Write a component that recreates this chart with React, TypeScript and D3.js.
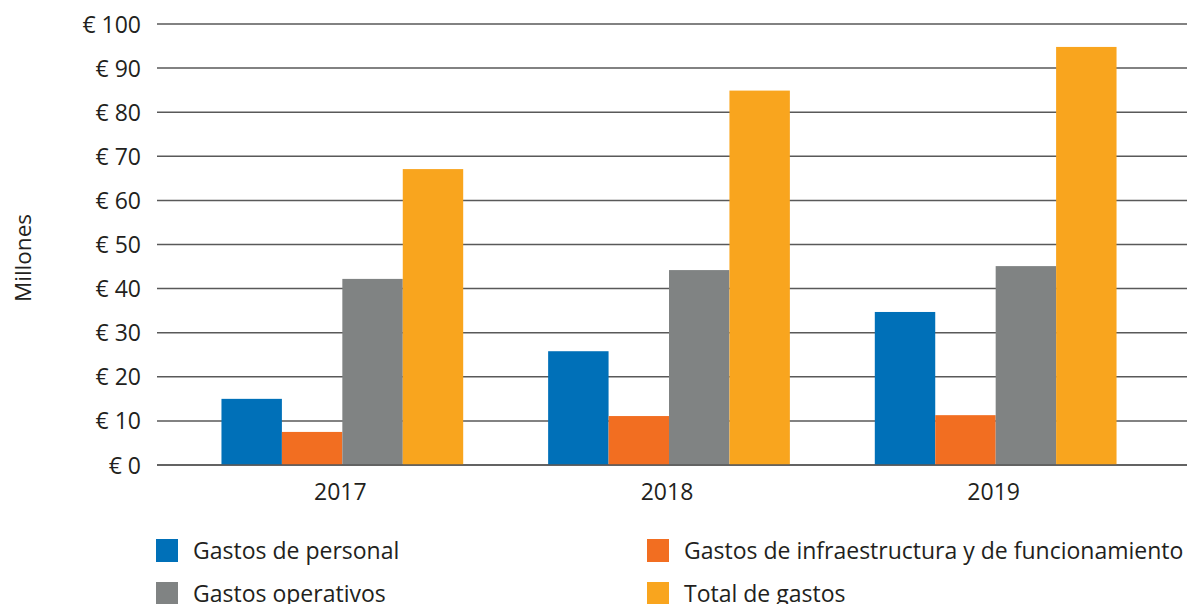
import * as d3 from "d3";
import { useRef, useEffect } from "react";

const years = ["2017", "2018", "2019"];
const seriesNames = [
  "Gastos de personal",
  "Gastos de infraestructura y de funcionamiento",
  "Gastos operativos",
  "Total de gastos"
];
const colors = ["#0070b8", "#f26e21", "#808383", "#f9a51e"];
// values in millions of euros, one array per series (2017, 2018, 2019)
const personal = [15.0, 25.8, 34.7];
const infraestructura = [7.5, 11.1, 11.3];
const operativos = [42.2, 44.2, 45.1];
const total = [67.1, 84.9, 94.8];
const yTicks = [0, 10, 20, 30, 40, 50, 60, 70, 80, 90, 100];

const series = [personal, infraestructura, operativos, total];

export default function App() {
  const width = 1194;
  const height = 604;
  const gridLeft = 157;
  const gridRight = 1187;
  const font = "'Open Sans', sans-serif";
  const textColor = "#231f20";

  const gy = useRef<SVGGElement>(null);

  const y = d3.scaleLinear([0, 100], [465, 24]);
  const x0 = d3.scaleBand(years, [179, 1159]).paddingInner(0.26).paddingOuter(0.13);
  const x1 = d3.scaleBand(d3.range(series.length).map(String), [0, x0.bandwidth()]);

  useEffect(() => {
    const g = d3.select(gy.current);
    g.selectAll("*").remove();
    g.call(
      d3.axisLeft(y)
        .tickValues(yTicks)
        .tickSize(0)
        .tickPadding(16)
        .tickFormat((d) => `€ ${d}`)
    );
    g.select(".domain").remove();
    g.selectAll("text")
      .style("font-family", font)
      .style("font-size", "23px")
      .attr("fill", textColor)
      .attr("dy", "0.35em");
  }, []);

  const legend = [
    { i: 0, x: 156, y: 539 },
    { i: 1, x: 647, y: 539 },
    { i: 2, x: 156, y: 582 },
    { i: 3, x: 647, y: 582 }
  ];

  return (
    <svg
      width={width}
      height={height}
      style={{ position: "absolute", left: 0, top: 0, background: "#fff" }}
    >
      <g>
        {yTicks.map((t) => (
          <line
            key={t}
            x1={gridLeft}
            x2={gridRight}
            y1={y(t)}
            y2={y(t)}
            stroke="#595959"
            strokeWidth={1.5}
          />
        ))}
      </g>
      <g ref={gy} transform={`translate(${gridLeft},0)`} />
      {years.map((yr, j) => (
        <g key={yr} transform={`translate(${x0(yr)},0)`}>
          {series.map((s, i) => (
            <rect
              key={i}
              x={x1(String(i))}
              y={y(s[j])}
              width={x1.bandwidth()}
              height={y(0) - y(s[j])}
              fill={colors[i]}
            />
          ))}
        </g>
      ))}
      <line x1={gridLeft} x2={gridRight} y1={y(0)} y2={y(0)} stroke="#595959" strokeWidth={1.5} />
      {years.map((yr) => (
        <text
          key={yr}
          x={(x0(yr) ?? 0) + x0.bandwidth() / 2 - 2}
          y={492}
          dy="0.35em"
          textAnchor="middle"
          fontFamily={font}
          fontSize={23}
          fill={textColor}
        >
          {yr}
        </text>
      ))}
      <text
        transform="translate(23,258) rotate(-90)"
        textAnchor="middle"
        dy="0.35em"
        fontFamily={font}
        fontSize={22.5}
        fill={textColor}
      >
        Millones
      </text>
      {legend.map((l) => (
        <g key={l.i}>
          <rect x={l.x} y={l.y} width={22} height={23} fill={colors[l.i]} />
          <text
            x={l.x + 37}
            y={l.y + 11.5}
            dy="0.35em"
            fontFamily={font}
            fontSize={23}
            fill={textColor}
          >
            {seriesNames[l.i]}
          </text>
        </g>
      ))}
    </svg>
  );
}
